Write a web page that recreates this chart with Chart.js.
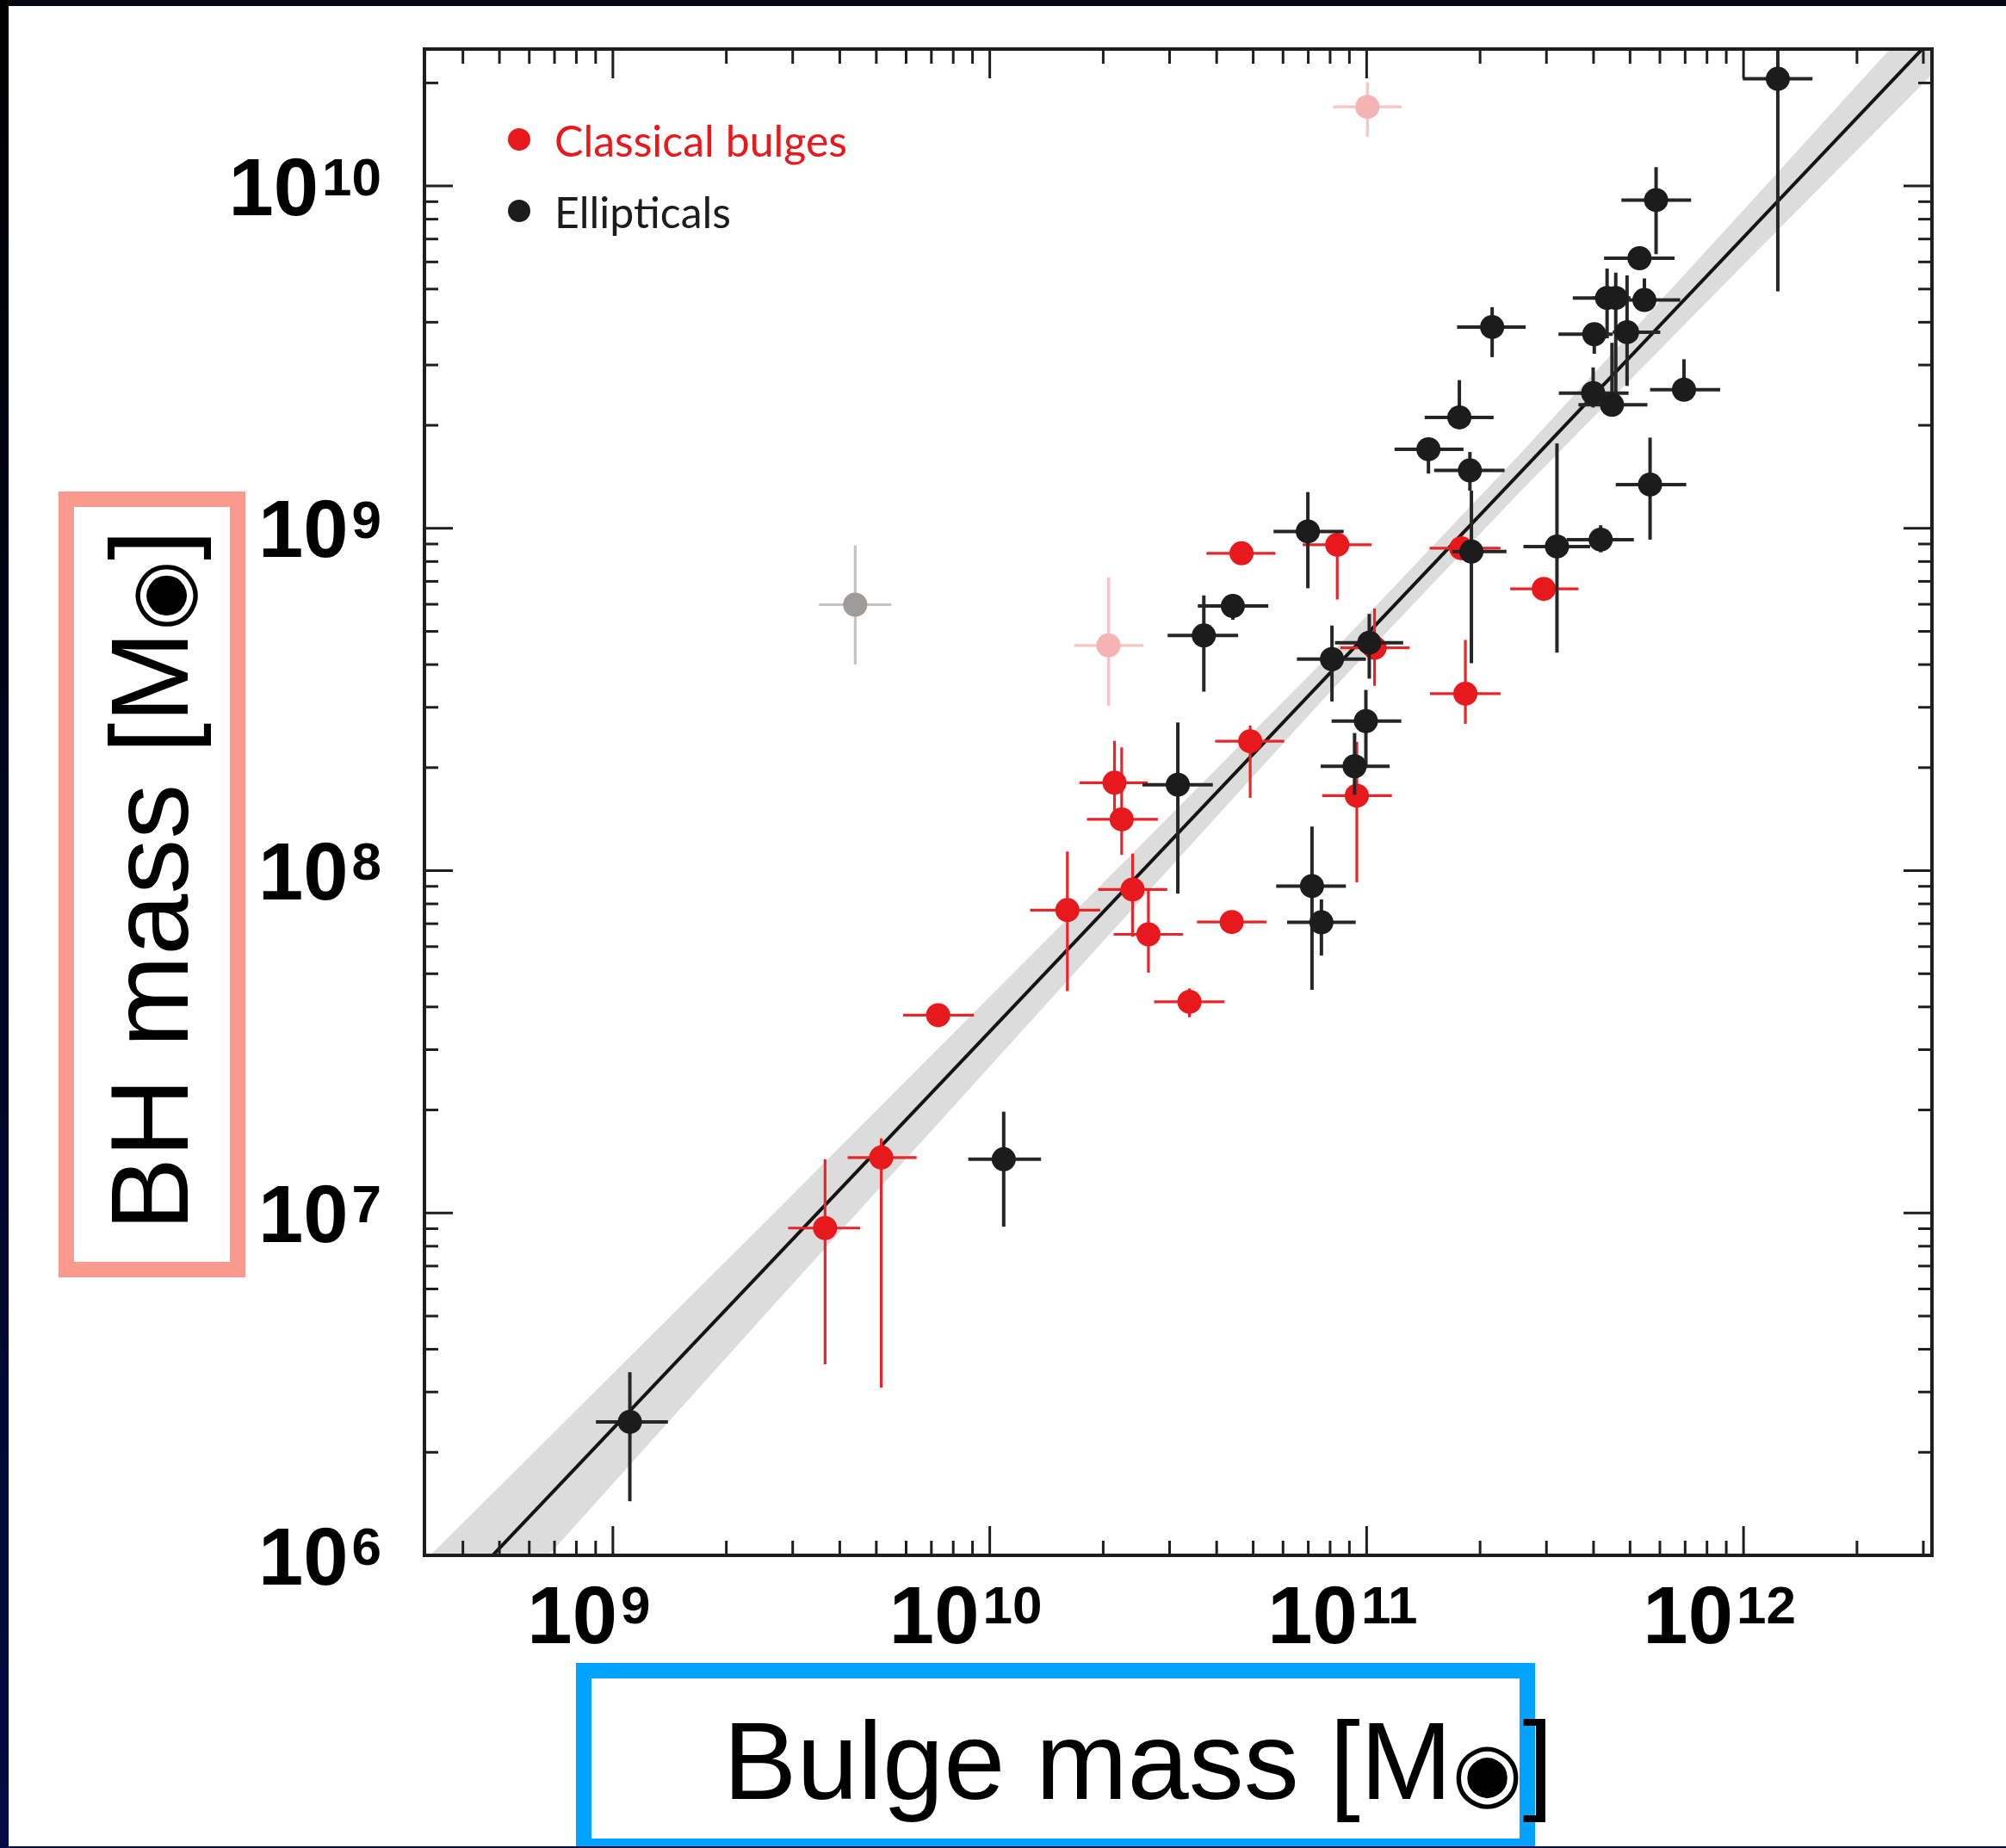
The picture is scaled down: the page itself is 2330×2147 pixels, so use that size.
<!DOCTYPE html>
<html lang="en">
<head>
<meta charset="utf-8">
<title>BH mass vs bulge mass</title>
<script src="https://cdn.jsdelivr.net/npm/chart.js@4.4.1/dist/chart.umd.min.js"></script>
<style>
  html, body { margin: 0; padding: 0; background: #fff; overflow: hidden; }
  #frame { position: relative; width: 2330px; height: 2147px; }
  #plot { position: absolute; left: 0; top: 0; }
  .edge { position: absolute; }
  #edge-top { left: 0; top: 0; width: 2330px; height: 7px; background: #040713; }
  #edge-left { left: 0; top: 0; width: 10px; height: 2147px; background: linear-gradient(#000000, #020b45); }
  #edge-bottom { left: 0; bottom: 0; width: 2330px; height: 2px; background: #020b45; }
</style>
</head>
<body>
<div id="frame">
  <canvas id="plot" width="2330" height="2147"></canvas>
  <div class="edge" id="edge-top"></div>
  <div class="edge" id="edge-left"></div>
  <div class="edge" id="edge-bottom"></div>
</div>
<script>
'use strict';
// Axis limits, in log10 solar masses
const LOG_X_MIN = 8.5, LOG_X_MAX = 12.5;
const LOG_Y_MIN = 6, LOG_Y_MAX = 10.4;

// rows: [log Mbulge, log MBH, Mbulge lo, Mbulge hi, MBH lo, MBH hi] (all log10); null = no bar on that side
const ellipticals = [
  [9.045, 6.390, 8.955, 9.146, 6.158, 6.535],
  [10.037, 7.157, 9.943, 10.136, 6.960, 7.296],
  [12.091, 10.313, 11.998, 12.183, 9.692, 10.45],
  [11.768, 9.959, 11.676, 11.861, 9.801, 10.055],
  [11.724, 9.789, 11.630, 11.817, 9.77, 9.81],
  [11.638, 9.673, 11.547, 11.700, 9.555, 9.759],
  [11.661, 9.673, 11.600, 11.680, 9.379, 9.747],
  [11.737, 9.667, 11.684, 11.832, 9.634, 9.730],
  [11.604, 9.567, 11.509, 11.653, 9.510, null],
  [11.691, 9.573, 11.653, 11.779, 9.416, 9.739],
  [11.333, 9.588, 11.240, 11.422, 9.500, 9.646],
  [11.842, 9.405, 11.752, 11.938, 9.395, 9.494],
  [11.601, 9.395, 11.510, 11.695, 9.353, 9.470],
  [11.651, 9.361, 11.562, 11.745, 9.336, 9.542],
  [11.246, 9.324, 11.154, 11.337, null, 9.433],
  [11.164, 9.231, 11.074, 11.257, 9.160, null],
  [11.274, 9.169, 11.179, 11.366, 9.110, 9.223],
  [11.278, 8.932, 11.227, 11.371, 8.606, 9.110],
  [11.752, 9.128, 11.661, 11.848, 8.967, 9.265],
  [11.505, 8.947, 11.416, 11.593, 8.637, 9.248],
  [11.621, 8.967, 11.531, 11.709, 8.930, 9.009],
  [10.844, 8.991, 10.753, 10.939, 8.825, 9.106],
  [10.645, 8.773, 10.552, 10.739, 8.733, 8.808],
  [10.568, 8.687, 10.472, 10.659, 8.523, 8.804],
  [10.908, 8.618, 10.815, 10.998, 8.494, 8.716],
  [11.007, 8.666, 10.916, 11.097, 8.561, 8.750],
  [10.998, 8.437, 10.907, 11.092, 8.300, 8.528],
  [10.968, 8.305, 10.878, 11.061, 8.222, 8.402],
  [10.499, 8.251, 10.405, 10.592, 7.933, 8.433],
  [10.855, 7.955, 10.760, 10.945, 7.652, 8.129],
  [10.880, 7.849, 10.789, 10.971, 7.752, 7.916],
];

const classicalBulges = [
  [11.470, 8.823, 11.381, 11.562, null, null],
  [10.922, 8.952, 10.830, 11.013, 8.792, null],
  [10.668, 8.927, 10.575, 10.758, null, null],
  [11.262, 8.517, 11.168, 11.355, 8.429, 8.674],
  [10.974, 8.219, 10.882, 11.067, 7.966, 8.376],
  [10.691, 8.378, 10.598, 10.781, 8.213, 8.424],
  [10.331, 8.257, 10.238, 10.419, 8.163, 8.379],
  [10.350, 8.150, 10.258, 10.446, 8.046, 8.360],
  [10.206, 7.885, 10.107, 10.293, 7.648, 8.056],
  [10.379, 7.945, 10.288, 10.471, 7.807, 8.050],
  [10.421, 7.814, 10.329, 10.513, 7.702, 7.941],
  [10.642, 7.850, 10.550, 10.734, null, null],
  [10.530, 7.617, 10.436, 10.623, 7.572, 7.656],
  [9.863, 7.578, 9.770, 9.958, null, null],
  [9.712, 7.162, 9.623, 9.806, 6.490, 7.218],
  [9.563, 6.956, 9.465, 9.656, 6.558, 7.157],
  [11.251, 8.942, 11.167, 11.355, null, null],
  [11.021, 8.651, 10.930, 11.114, 8.540, 8.766],
];

// objects left out of the fit
const fadedBulges = [
  [11.002, 10.231, 10.911, 11.093, 10.144, 10.303],
  [10.315, 8.658, 10.224, 10.408, 8.481, 8.857],
];
const fadedEllipticals = [
  [9.643, 8.777, 9.547, 9.739, 8.602, 8.950],
];

// fitted relation and its shaded band
const fitLogMbulge = [8.4, 12.6];
const fitLogMbh = [5.674, 10.546];
const bandLogMbulge = [8.4, 8.7, 9.4, 10.3, 10.9, 11.4, 12.0, 12.6];
const bandLogUpper = [5.874, 6.202, 6.969, 7.963, 8.629, 9.209, 9.930, 10.656];
const bandLogLower = [5.474, 5.842, 6.699, 7.793, 8.519, 9.099, 9.770, 10.436];

const xTickExps = [9, 10, 11, 12];
const yTickExps = [6, 7, 8, 9, 10];
const minorSteps = [2, 3, 4, 5, 6, 7, 8, 9];

const legendItems = [
  { label: 'Classical bulges', color: '#e8191c' },
  { label: 'Ellipticals', color: '#1c1c1c' },
];

const SUN = '\u25C9';
const xTitle = ['Bulge mass [M', SUN, ']'];
const yTitle = ['BH mass [M', SUN, ']'];

const pow10 = (v) => Math.pow(10, v);
const toPoints = (rows) => rows.map(r => ({ x: pow10(r[0]), y: pow10(r[1]) }));
const toLine = (xs, ys) => xs.map((v, i) => ({ x: pow10(v), y: pow10(ys[i]) }));

function pointSet(label, rows, fill, bar, barWidth) {
  return {
    type: 'scatter', label, data: toPoints(rows), errRows: rows,
    barColor: bar, barWidth,
    pointRadius: 14, pointHoverRadius: 14, pointBackgroundColor: fill,
    pointBorderWidth: 0, borderWidth: 0, showLine: false,
  };
}

// error bars go down right before their own markers
const errorBars = {
  id: 'errorBars',
  beforeDatasetDraw(chart, args) {
    const ds = chart.data.datasets[args.index];
    if (!ds.errRows) return;
    const { ctx, chartArea: a, scales: { x, y } } = chart;
    ctx.save();
    ctx.beginPath();
    ctx.rect(a.left, a.top, a.right - a.left, a.bottom - a.top);
    ctx.clip();
    ctx.strokeStyle = ds.barColor;
    ctx.lineWidth = ds.barWidth;
    ds.errRows.forEach(r => {
      const px = x.getPixelForValue(pow10(r[0])), py = y.getPixelForValue(pow10(r[1]));
      const seg = (x0, y0, x1, y1) => { ctx.beginPath(); ctx.moveTo(x0, y0); ctx.lineTo(x1, y1); ctx.stroke(); };
      if (r[2] !== null) seg(x.getPixelForValue(pow10(r[2])), py, px, py);
      if (r[3] !== null) seg(px, py, x.getPixelForValue(pow10(r[3])), py);
      if (r[4] !== null) seg(px, py, px, y.getPixelForValue(pow10(r[4])));
      if (r[5] !== null) seg(px, y.getPixelForValue(pow10(r[5])), px, py);
    });
    ctx.restore();
  },
};

function powerLabel(ctx, exp, x, y, align) {
  // "10" with a raised exponent; y is the vertical centre of the digits
  const big = 94, small = 62;
  ctx.font = `bold ${big}px "Liberation Sans", Arial, sans-serif`;
  const wBase = ctx.measureText('10').width;
  ctx.font = `bold ${small}px "Liberation Sans", Arial, sans-serif`;
  const wExp = ctx.measureText(String(exp)).width;
  const gap = 4, total = wBase + gap + wExp;
  const left = align === 'right' ? x - total : x - total / 2;
  const top = y - big * 0.358;
  ctx.textAlign = 'left';
  ctx.textBaseline = 'alphabetic';
  ctx.font = `bold ${big}px "Liberation Sans", Arial, sans-serif`;
  ctx.fillText('10', left, top + big * 0.716);
  ctx.font = `bold ${small}px "Liberation Sans", Arial, sans-serif`;
  ctx.fillText(String(exp), left + wBase + gap, top + small * 0.716);
}

// title text with the solar symbol set a little smaller than the letters
function titleText(ctx, parts, x, y) {
  const fonts = ['128px "Liberation Sans", Arial, sans-serif',
                 '94px "DejaVu Sans", sans-serif',
                 '128px "Liberation Sans", Arial, sans-serif'];
  let cx = x;
  parts.forEach((p, i) => {
    ctx.font = fonts[i];
    ctx.fillText(p, cx, y);
    cx += ctx.measureText(p).width;
  });
}

const decorations = {
  id: 'decorations',
  afterDraw(chart) {
    const { ctx, chartArea: a, scales: { x, y } } = chart;
    ctx.save();
    ctx.fillStyle = '#000';
    ctx.strokeStyle = '#1e1e1e';
    ctx.lineWidth = 3;
    const seg = (x0, y0, x1, y1) => { ctx.beginPath(); ctx.moveTo(x0, y0); ctx.lineTo(x1, y1); ctx.stroke(); };

    // inward ticks on all four sides
    for (let e = Math.floor(LOG_X_MIN); e <= Math.ceil(LOG_X_MAX); e++) {
      [1, ...minorSteps].forEach(m => {
        const v = m * pow10(e);
        if (v < x.min || v > x.max) return;
        const px = x.getPixelForValue(v), len = m === 1 ? 34 : 17;
        seg(px, a.bottom, px, a.bottom - len);
        seg(px, a.top, px, a.top + len);
      });
    }
    for (let e = Math.floor(LOG_Y_MIN); e <= Math.ceil(LOG_Y_MAX); e++) {
      [1, ...minorSteps].forEach(m => {
        const v = m * pow10(e);
        if (v < y.min || v > y.max) return;
        const py = y.getPixelForValue(v), len = m === 1 ? 33 : 16;
        seg(a.left, py, a.left + len, py);
        seg(a.right, py, a.right - len, py);
      });
    }

    ctx.lineWidth = 4;
    ctx.strokeRect(a.left, a.top, a.right - a.left, a.bottom - a.top);

    // tick labels
    xTickExps.forEach(e => powerLabel(ctx, e, x.getPixelForValue(pow10(e)) - 28, a.bottom + 68, 'center'));
    yTickExps.forEach(e => powerLabel(ctx, e, a.left - 50, y.getPixelForValue(pow10(e)), 'right'));

    // legend
    ctx.font = '50px Lato, "Liberation Sans", sans-serif';
    ctx.textAlign = 'left';
    ctx.textBaseline = 'alphabetic';
    legendItems.forEach((it, i) => {
      const cy = a.top + 105 + i * 83;
      ctx.fillStyle = it.color;
      ctx.beginPath();
      ctx.arc(a.left + 110, cy, 13, 0, Math.PI * 2);
      ctx.fill();
      ctx.fillText(it.label, a.left + 151, cy + 20);
    });

    // axis titles in their framed boxes
    ctx.lineWidth = 18;
    ctx.strokeStyle = '#fa998e';
    ctx.strokeRect(77, 580, 199, 895);
    ctx.strokeStyle = '#00a3ff';
    ctx.strokeRect(678, 1941, 1096, 204);

    ctx.fillStyle = '#000';
    titleText(ctx, xTitle, 840, 2090);
    ctx.translate(218, 1430);
    ctx.rotate(-Math.PI / 2);
    titleText(ctx, yTitle, 0, 0);
    ctx.restore();
  },
};

new Chart(document.getElementById('plot'), {
  type: 'scatter',
  data: {
    datasets: [
      pointSet('Ellipticals', ellipticals, '#1c1c1c', '#262626', 4),
      pointSet('Classical bulges', classicalBulges, '#e8191c', '#e8262a', 3.2),
      pointSet('Classical bulges (omitted)', fadedBulges, '#f5b3b4', '#f7c3c4', 3.2),
      pointSet('Ellipticals (omitted)', fadedEllipticals, '#a09b9b', '#c6c4c4', 3.2),
      {
        type: 'line', label: 'fit', data: toLine(fitLogMbulge, fitLogMbh),
        borderColor: '#141414', borderWidth: 4, pointRadius: 0, fill: false,
      },
      {
        type: 'line', label: 'band upper', data: toLine(bandLogMbulge, bandLogUpper),
        borderWidth: 0, pointRadius: 0, fill: false,
      },
      {
        type: 'line', label: 'band lower', data: toLine(bandLogMbulge, bandLogLower),
        borderWidth: 0, pointRadius: 0, fill: '-1', backgroundColor: '#dcdcdc',
      },
    ],
  },
  options: {
    responsive: false,
    devicePixelRatio: 1,
    animation: false,
    events: [],
    layout: { padding: { left: 493, right: 86, top: 57, bottom: 340 } },
    scales: {
      x: { type: 'logarithmic', min: pow10(LOG_X_MIN), max: pow10(LOG_X_MAX), display: false },
      y: { type: 'logarithmic', min: pow10(LOG_Y_MIN), max: pow10(LOG_Y_MAX), display: false },
    },
    plugins: { legend: { display: false }, tooltip: { enabled: false } },
  },
  plugins: [errorBars, decorations],
});
</script>
</body>
</html>
